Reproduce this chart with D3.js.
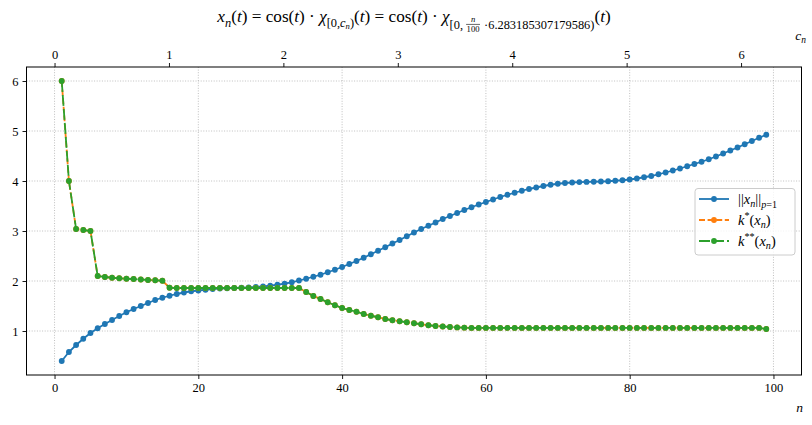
<!DOCTYPE html>
<html><head><meta charset="utf-8">
<script src="https://cdn.jsdelivr.net/npm/d3@7"></script>
<style>body{margin:0;background:#fff} svg{display:block} text{font-family:"Liberation Serif","DejaVu Serif",serif;fill:#000}</style>
</head><body><svg id="c" width="812" height="425"></svg>
<script>
// ---------- data ----------
const nValues = [1,2,3,4,5,6,7,8,9,10,11,12,13,14,15,16,17,18,19,20,21,22,23,24,25,26,27,28,29,30,31,32,33,34,35,36,37,38,39,40,41,42,43,44,45,46,47,48,49,50,51,52,53,54,55,56,57,58,59,60,61,62,63,64,65,66,67,68,69,70,71,72,73,74,75,76,77,78,79,80,81,82,83,84,85,86,87,88,89,90,91,92,93,94,95,96,97,98,99];
const normP1 = [0.40,0.58,0.72,0.845,0.96,1.055,1.14,1.22,1.30,1.375,1.44,1.50,1.56,1.62,1.665,1.705,1.74,1.77,1.795,1.81,1.825,1.84,1.85,1.855,1.86,1.865,1.872,1.882,1.892,1.905,1.925,1.948,1.975,2.01,2.045,2.085,2.125,2.175,2.225,2.28,2.34,2.40,2.465,2.535,2.605,2.675,2.75,2.82,2.895,2.97,3.04,3.105,3.17,3.24,3.30,3.36,3.42,3.475,3.53,3.58,3.63,3.68,3.725,3.765,3.805,3.84,3.87,3.90,3.925,3.945,3.96,3.97,3.978,3.982,3.985,3.99,3.995,4.005,4.015,4.03,4.05,4.075,4.10,4.135,4.17,4.21,4.25,4.295,4.34,4.385,4.435,4.49,4.55,4.61,4.67,4.735,4.80,4.865,4.925];
const kStar = [6.0,4.0,3.04,3.02,3.0,2.10,2.08,2.065,2.055,2.045,2.04,2.03,2.02,2.015,2.005,1.865,1.86,1.86,1.86,1.86,1.86,1.86,1.86,1.86,1.86,1.86,1.86,1.86,1.86,1.86,1.86,1.86,1.86,1.86,1.78,1.70,1.64,1.575,1.515,1.46,1.42,1.385,1.34,1.305,1.275,1.24,1.215,1.195,1.175,1.155,1.135,1.115,1.10,1.09,1.08,1.072,1.066,1.062,1.062,1.062,1.062,1.062,1.062,1.062,1.062,1.062,1.062,1.062,1.062,1.062,1.062,1.062,1.062,1.062,1.062,1.062,1.062,1.062,1.062,1.062,1.062,1.062,1.062,1.062,1.062,1.062,1.062,1.062,1.062,1.062,1.062,1.062,1.062,1.062,1.062,1.062,1.062,1.062,1.04];
const kStarStar = [6.0,4.0,3.04,3.02,3.0,2.10,2.08,2.065,2.055,2.045,2.04,2.03,2.02,2.015,2.005,1.865,1.86,1.86,1.86,1.86,1.86,1.86,1.86,1.86,1.86,1.86,1.86,1.86,1.86,1.86,1.86,1.86,1.86,1.86,1.78,1.70,1.64,1.575,1.515,1.46,1.42,1.385,1.34,1.305,1.275,1.24,1.215,1.195,1.175,1.155,1.135,1.115,1.10,1.09,1.08,1.072,1.066,1.062,1.062,1.062,1.062,1.062,1.062,1.062,1.062,1.062,1.062,1.062,1.062,1.062,1.062,1.062,1.062,1.062,1.062,1.062,1.062,1.062,1.062,1.062,1.062,1.062,1.062,1.062,1.062,1.062,1.062,1.062,1.062,1.062,1.062,1.062,1.062,1.062,1.062,1.062,1.062,1.062,1.04];
const xTicks = [0,20,40,60,80,100];
const yTicks = [1,2,3,4,5,6];
const cTicks = [0,1,2,3,4,5,6];
const seriesNames = ["norm","kstar","kstarstar"];

// ---------- layout ----------
const svg = d3.select("#c");
const L=26.5, R=801.5, T=67, B=375;
const TWO_PI = 6.283185307179586;
const x = d3.scaleLinear().domain([-3.9,103.9]).range([L,R]);
const y = d3.scaleLinear().domain([0.12,6.28]).range([B,T]);
const c = d3.scaleLinear().domain([-3.9*TWO_PI/100, 103.9*TWO_PI/100]).range([L,R]);

// grid
const grid = svg.append("g").attr("stroke","#b0b0b0").attr("stroke-width",0.8).attr("stroke-dasharray","1,1.6");
xTicks.forEach(t=>grid.append("line").attr("x1",x(t)).attr("x2",x(t)).attr("y1",T).attr("y2",B));
yTicks.forEach(t=>grid.append("line").attr("x1",L).attr("x2",R).attr("y1",y(t)).attr("y2",y(t)));

// axes
function styleAxis(g){
  g.attr("font-family",null);
  g.select(".domain").remove();
  g.selectAll(".tick line").attr("stroke","#000").attr("stroke-width",0.9);
  g.selectAll(".tick text").attr("font-size",12.5).attr("fill","#000");
}
svg.append("g").attr("transform",`translate(0,${B})`)
  .call(d3.axisBottom(x).tickValues(xTicks).tickSize(4).tickPadding(4).tickFormat(d3.format("d"))).call(styleAxis);
svg.append("g").attr("transform",`translate(${L},0)`)
  .call(d3.axisLeft(y).tickValues(yTicks).tickSize(4).tickPadding(4).tickFormat(d3.format("d"))).call(styleAxis);
svg.append("g").attr("transform",`translate(0,${T})`)
  .call(d3.axisTop(c).tickValues(cTicks).tickSize(4).tickPadding(4).tickFormat(d3.format("d"))).call(styleAxis);

// series
const colors = {norm:"#1f77b4", kstar:"#ff7f0e", kstarstar:"#2ca02c"};
const dashes = {norm:null, kstar:"6,2.6", kstarstar:"11,3"};
const dataMap = {norm:normP1, kstar:kStar, kstarstar:kStarStar};
const plot = svg.append("g");
const line = d3.line().x(d=>x(d[0])).y(d=>y(d[1]));
seriesNames.forEach(s=>{
  const pts = nValues.map((n,i)=>[n,dataMap[s][i]]);
  const g = plot.append("g");
  g.append("path").attr("d",line(pts)).attr("fill","none").attr("stroke",colors[s])
    .attr("stroke-width",1.8).attr("stroke-dasharray",dashes[s]);
  g.selectAll("circle").data(pts).join("circle").attr("cx",d=>x(d[0])).attr("cy",d=>y(d[1]))
    .attr("r",2.9).attr("fill",colors[s]);
});

// frame
svg.append("rect").attr("x",L).attr("y",T).attr("width",R-L).attr("height",B-T)
  .attr("fill","none").attr("stroke","#000").attr("stroke-width",1);

// ---------- math text helper ----------
function mathText(g, pieces, F){
  let xx=0;
  pieces.forEach(p=>{
    const s = p.s||1, dy=(p.dy||0)*F;
    if(p.frac){
      const fs=F*s;
      const num=g.append("text").attr("font-size",fs).attr("font-style","italic").text(p.num);
      const den=g.append("text").attr("font-size",fs).text(p.den);
      const w=Math.max(num.node().getComputedTextLength(),den.node().getComputedTextLength())+1;
      num.attr("x",xx+w/2).attr("y",dy-fs*0.55).attr("text-anchor","middle");
      den.attr("x",xx+w/2).attr("y",dy+fs*0.62).attr("text-anchor","middle");
      g.append("line").attr("x1",xx).attr("x2",xx+w).attr("y1",dy-fs*0.32).attr("y2",dy-fs*0.32)
        .attr("stroke","#000").attr("stroke-width",0.6);
      xx+=w+1;
    } else {
      const t=g.append("text").attr("x",xx).attr("y",dy).attr("font-size",F*s)
        .attr("font-style",p.it?"italic":"normal").text(p.t);
      xx+=t.node().getComputedTextLength()+(p.pad||0);
    }
  });
  return xx;
}
const NB="\u00A0";
// title
const titleG = svg.append("g");
const sub=0.72, sd=0.28;
const tw = mathText(titleG,[
  {t:"x",it:1},{t:"n",it:1,s:sub,dy:sd},{t:"("},{t:"t",it:1},{t:")"+NB+"="+NB+"cos("},{t:"t",it:1},{t:")"+NB+"·"+NB},
  {t:"χ",it:1},{t:"[0,",s:sub,dy:sd},{t:"c",it:1,s:sub,dy:sd},{t:"n",it:1,s:0.5,dy:sd+0.12},{t:")",s:sub,dy:sd},
  {t:"("},{t:"t",it:1},{t:")"+NB+"="+NB+"cos("},{t:"t",it:1},{t:")"+NB+"·"+NB},
  {t:"χ",it:1},{t:"[0,"+NB,s:sub,dy:0.38},{frac:1,num:"n",den:"100",s:0.5,dy:0.3},{t:NB+"·6.283185307179586)",s:sub,dy:0.38},
  {t:"("},{t:"t",it:1},{t:")"}
],17.2);
titleG.attr("transform",`translate(${414 - tw/2},22)`);

// axis labels
const cl = svg.append("g"); const cw = mathText(cl,[{t:"c",it:1},{t:"n",it:1,s:0.7,dy:0.25}],13.5);
cl.attr("transform",`translate(${806-cw},40)`);
const nl = svg.append("g"); const nw = mathText(nl,[{t:"n",it:1}],13.5);
nl.attr("transform",`translate(${803-nw},412)`);

// legend
const lg = svg.append("g");
lg.append("rect").attr("x",695).attr("y",188.5).attr("width",100).attr("height",66.5).attr("rx",3)
  .attr("fill","#fff").attr("fill-opacity",0.8).attr("stroke","#cccccc").attr("stroke-width",1);
const legLabels = {
  norm:[{t:"||"},{t:"x",it:1},{t:"n",it:1,s:0.7,dy:0.25},{t:"||"},{t:"p",it:1,s:0.7,dy:0.3},{t:"=1",s:0.7,dy:0.3}],
  kstar:[{t:"k",it:1},{t:"*",s:0.7,dy:-0.35},{t:"("},{t:"x",it:1},{t:"n",it:1,s:0.7,dy:0.25},{t:")"}],
  kstarstar:[{t:"k",it:1},{t:"**",s:0.7,dy:-0.35},{t:"("},{t:"x",it:1},{t:"n",it:1,s:0.7,dy:0.25},{t:")"}]
};
seriesNames.forEach((s,i)=>{
  const yy = 199 + i*21;
  lg.append("line").attr("x1",699).attr("x2",729).attr("y1",yy).attr("y2",yy)
    .attr("stroke",colors[s]).attr("stroke-width",1.8).attr("stroke-dasharray",dashes[s]);
  lg.append("circle").attr("cx",714).attr("cy",yy).attr("r",2.9).attr("fill",colors[s]);
  const tg = lg.append("g").attr("transform",`translate(738,${yy+4.5})`);
  mathText(tg,legLabels[s],14.5);
});
</script></body></html>
